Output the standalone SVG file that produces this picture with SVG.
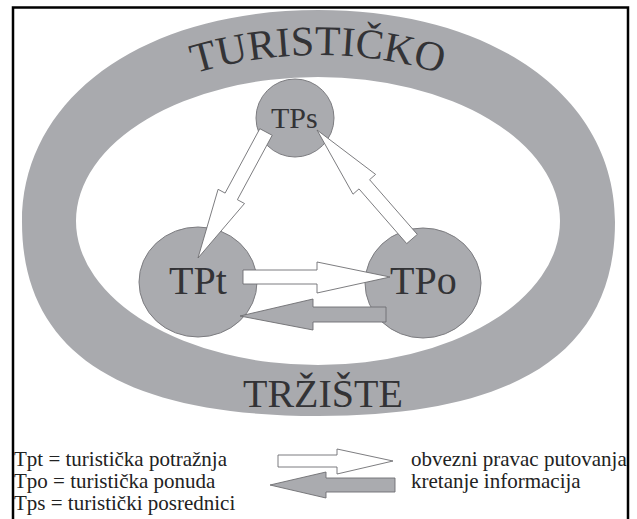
<svg xmlns="http://www.w3.org/2000/svg" width="637" height="519" viewBox="0 0 637 519">
<style>
.lbl{fill:#333336}
.leg{fill:#222;font-size:21px}
.node{fill:#aaabaf;stroke:#7c7c80;stroke-width:1}
.wa{fill:#fff;stroke:#6e6e72;stroke-width:0.9;stroke-linejoin:miter}
.ga{fill:#aaabaf;stroke:#6e6e72;stroke-width:0.9}
</style>
<defs>
<path id="arcTop" d="M -45.7,265 A 420 420 0 0 1 681.7,265"/>
</defs>
<rect x="0" y="0" width="637" height="519" fill="#fff"/>
<path d="M13,525 V7.5 H628 V525" fill="none" stroke="#000" stroke-width="2.5"/>
<g font-family="Liberation Serif, DejaVu Serif, serif">
<g id="market">
<path fill="#a9aaae" fill-rule="evenodd" d="M22,222 C22,97 143.6,10 318.5,10 C493.4,10 615,97 615,222 C615,354 513,416 318.5,416 C124,416 22,354 22,222 Z M76,221 A242 144 0 1 0 560,221 A242 144 0 1 0 76,221 Z"/>
<text class="lbl" font-size="42"><textPath href="#arcTop" startOffset="50%" text-anchor="middle">TURISTIČKO</textPath></text>
<text class="lbl" font-size="40" x="323" y="407" text-anchor="middle">TRŽIŠTE</text>
</g>
<g id="TPs">
<circle class="node" cx="295" cy="118" r="39"/>
<text class="lbl" font-size="30" x="271" y="128">TPs</text>
</g>
<g id="TPt">
<ellipse class="node" cx="198" cy="282" rx="59" ry="55"/>
<text class="lbl" font-size="40" x="169" y="294">TPt</text>
</g>
<g id="TPo">
<ellipse class="node" cx="423" cy="283" rx="58" ry="55"/>
<text class="lbl" font-size="40" x="390" y="294">TPo</text>
</g>
<g id="connectors">
<polygon class="wa" points="259.8,128.7 225.1,193.1 218.1,189.3 198,258 244.5,203.5 237.4,199.7 272.2,135.3"/>
<polygon class="wa" points="417.3,234.4 369.6,179.7 375.6,174.4 317,130 353,194.2 359,188.9 406.7,243.6"/>
<polygon class="wa" points="243,270 317,270 317,262 390,277 317,293 317,284 243,284"/>
<polygon class="ga" points="386,307 313,307 313,299 240,316 313,330 313,322 386,322"/>
</g>
<g id="legend">
<polygon class="wa" points="278,455 337,455 337,449 393,461 337,474 337,467 278,467"/>
<polygon class="ga" points="395,478 326,478 326,472 270,485 326,498 326,492 395,492"/>
<text class="leg" x="14" y="466">Tpt = turistička potražnja</text>
<text class="leg" x="14" y="488">Tpo = turistička ponuda</text>
<text class="leg" x="14" y="510">Tps = turistički posrednici</text>
<text class="leg" x="411" y="466">obvezni pravac putovanja</text>
<text class="leg" x="411" y="488">kretanje informacija</text>
</g>
</g>
</svg>
